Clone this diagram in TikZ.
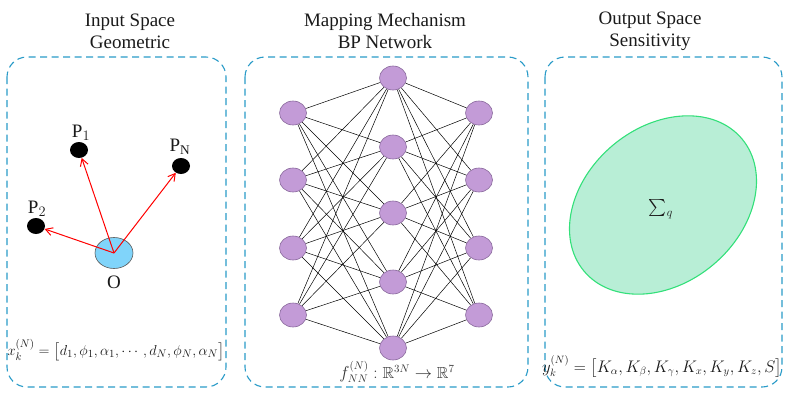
\documentclass[tikz,border=0pt]{standalone}
\usepackage{amsmath,amssymb}
\usepackage{fontspec}
\setmainfont{Liberation Serif}
\usetikzlibrary{arrows.meta,shapes.geometric}
\pgfdeclarelayer{background}
\pgfsetlayers{background,main}
\definecolor{boxblue}{HTML}{2A9BC8}
\definecolor{nnfill}{HTML}{C39BD7}
\definecolor{nnedge}{HTML}{8A6A9C}
\definecolor{ofill}{HTML}{80D4FA}
\definecolor{gfill}{HTML}{B8EED6}
\definecolor{gedge}{HTML}{33E07A}
\definecolor{txt}{HTML}{1A1A1A}
\tikzset{
  panel/.style={draw=boxblue, line width=1.1pt, dash pattern=on 7pt off 4.5pt, rounded corners=20pt},
  title/.style={align=center, font=\fontsize{19}{22}\selectfont, text=txt},
  neuron/.style={ellipse, draw=nnedge, fill=nnfill, line width=0.6pt, minimum width=27pt, minimum height=24pt, inner sep=0pt},
  link/.style={black, line width=0.5pt},
  dot/.style={ellipse, fill=black, minimum width=18pt, minimum height=16pt, inner sep=0pt},
  vec/.style={red, line width=1pt, -{Straight Barb[length=7pt,width=8pt]}},
  plabel/.style={font=\fontsize{19}{22}\selectfont, text=txt},
  formula/.style={font=\fontsize{15}{18}\selectfont, text=txt},
}
\begin{document}
\begin{tikzpicture}[x=1pt,y=-1pt]
\useasboundingbox (0,0) rectangle (788,400);
% panels
\draw[panel] (7,57) rectangle (226,387);
\draw[panel] (245,57) rectangle (528,387);
\draw[panel] (545,57) rectangle (782,387);
% titles
\node[title] (t1) at (130,31) {Input Space\\Geometric};
\node[title] (t2) at (385,31) {Mapping Mechanism\\BP Network};
\node[title] (t3) at (650,31) {Output Space\\Sensitivity};
% input space
\node[ellipse, draw=gray!70!black, fill=ofill, line width=0.6pt, minimum width=38pt, minimum height=31pt, inner sep=0pt] (O) at (114,253) {};
\node[plabel] (Ol) at (114,282) {O};
\node[dot] (P1) at (79,150) {};
\node[dot] (PN) at (181,166) {};
\node[dot] (P2) at (36,226) {};
\node[plabel] (P1l) at (81,133) {P$_1$};
\node[plabel] (PNl) at (180,147) {P$_{\mathrm{N}}$};
\node[plabel] (P2l) at (37,209) {P$_2$};
\draw[vec] (O.center) -- (P1);
\draw[vec] (O.center) -- (PN);
\draw[vec] (O.center) -- (P2);
\node[formula] (fx) at (116,350) {$x_k^{(N)}=\bigl[d_1,\phi_1,\alpha_1,\cdots,d_N,\phi_N,\alpha_N\bigr]$};
% network
\foreach \i/\y in {1/113,2/180,3/248,4/315} {
  \node[neuron] (l\i) at (293,\y) {};
  \node[neuron] (r\i) at (479,\y) {};
}
\foreach \j/\y in {1/78,2/147,3/213,4/282,5/348} {
  \node[neuron] (h\j) at (393,\y) {};
}
\begin{pgfonlayer}{background}
\foreach \i in {1,...,4} {
  \foreach \j in {1,...,5} {
    \draw[link] (l\i) -- (h\j);
    \draw[link] (h\j) -- (r\i);
  }
}
\end{pgfonlayer}
\node[formula, font=\fontsize{16}{18}\selectfont, text=black!80] (fn) at (397,372) {$f_{NN}^{(N)}:\mathbb{R}^{3N}\rightarrow\mathbb{R}^{7}$};
% output space
\draw[gedge, fill=gfill, line width=1.1pt, rotate around={40:(663,205)}] (663,205) ellipse [x radius=103, y radius=78];
\node[formula, font=\fontsize{17}{20}\selectfont] (sig) at (661,209) {$\textstyle\sum_q$};
\node[formula, font=\fontsize{16}{18}\selectfont, scale=0.97] (fy) at (662,367) {$y_k^{(N)}=\bigl[K_\alpha,K_\beta,K_\gamma,K_x,K_y,K_z,S\bigr]$};
\end{tikzpicture}
\end{document}
